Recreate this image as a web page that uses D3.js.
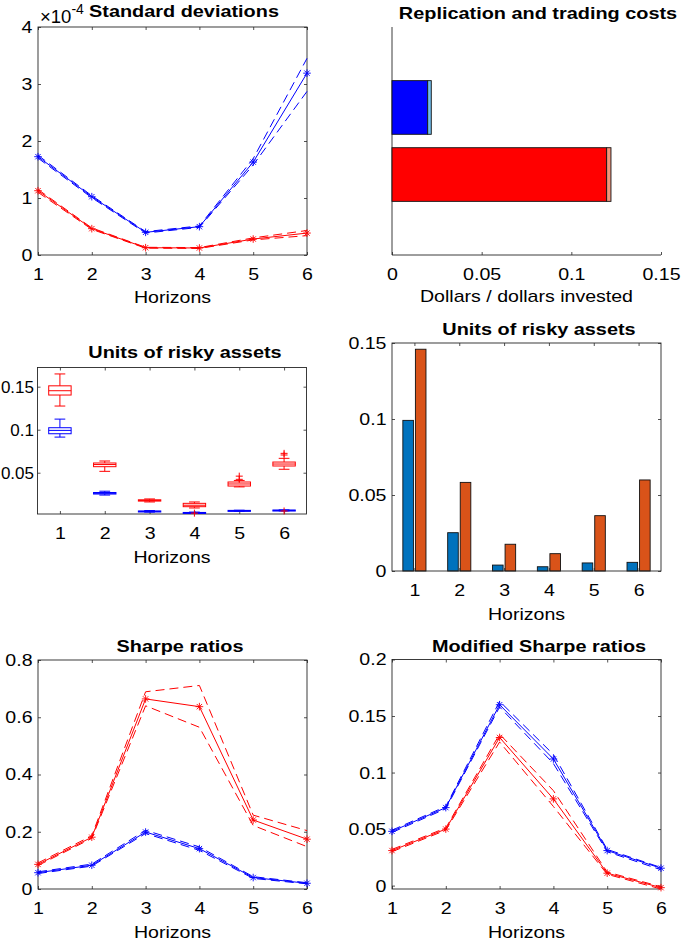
<!DOCTYPE html>
<html>
<head>
<meta charset="utf-8">
<script src="https://cdn.jsdelivr.net/npm/d3@7"></script>
<style>
  body { margin: 0; background: #fff; }
  svg text { font-family: "Liberation Sans", Arial, sans-serif; fill: #000; }
</style>
</head>
<body>
<div id="main"></div>
<script>
const WIDTH = 685;
const HEIGHT = 948;
const AXIS_COLOR = '#262626';
const STRETCH = 1.15;
const FONT = 17;
const BLUE = '#0000ff';
const RED = '#ff0000';

/**
 * Data
 */
const horizons = [1, 2, 3, 4, 5, 6];

// standard deviations, in units of 1e-4
const stdBlue = [1.725, 1.023, 0.398, 0.497, 1.63, 3.19];
const stdBlueHi = [1.75, 1.04, 0.41, 0.51, 1.69, 3.45];
const stdBlueLo = [1.70, 1.005, 0.385, 0.485, 1.58, 2.87];
const stdRed = [1.128, 0.462, 0.128, 0.123, 0.28, 0.385];
const stdRedHi = [1.15, 0.475, 0.135, 0.13, 0.30, 0.43];
const stdRedLo = [1.10, 0.45, 0.12, 0.115, 0.265, 0.34];

// replication and trading costs (stacked horizontal bars)
const costRows = [1, 2];
const replicationCost = [0.0199, 0.1197];
const tradingCost = [0.002, 0.0024];
const costColors = [BLUE, RED];
const tradingColors = ['#72bdec', '#f2957b'];

// boxplot of units of risky assets: [whiskerLo, q1, median, q3, whiskerHi]
const boxRed = [
  [0.1275, 0.1403, 0.1453, 0.151, 0.1648],
  [0.0516, 0.057, 0.0595, 0.0613, 0.0636],
  [0.016, 0.017, 0.0178, 0.0185, 0.0195],
  [0.009, 0.0105, 0.0122, 0.0144, 0.016],
  [0.0335, 0.0345, 0.0369, 0.0392, 0.041],
  [0.054, 0.0578, 0.0601, 0.0624, 0.0667]
];
const boxBlue = [
  [0.0914, 0.0953, 0.0992, 0.1023, 0.1123],
  [0.024, 0.0252, 0.026, 0.027, 0.0285],
  [0.0042, 0.0048, 0.0051, 0.0055, 0.006],
  [0.0027, 0.003, 0.0034, 0.0038, 0.0042],
  [0.0052, 0.0055, 0.0058, 0.0062, 0.0064],
  [0.0056, 0.0058, 0.0062, 0.0066, 0.0068]
];
const outliersRed = [[], [], [], [0.003], [0.0423, 0.046], [0.0706, 0.0725, 0.0055]];

// units of risky assets (grouped bars)
const unitsBlue = [0.0991, 0.0252, 0.0039, 0.0028, 0.0053, 0.0057];
const unitsOrange = [0.1459, 0.0583, 0.0176, 0.0114, 0.0364, 0.0599];

// Sharpe ratios
const sharpeRed = [0.086, 0.181, 0.664, 0.637, 0.241, 0.174];
const sharpeRedHi = [0.091, 0.186, 0.689, 0.711, 0.258, 0.204];
const sharpeRedLo = [0.082, 0.177, 0.640, 0.565, 0.222, 0.148];
const sharpeBlue = [0.057, 0.083, 0.199, 0.141, 0.040, 0.020];
const sharpeBlueHi = [0.060, 0.087, 0.205, 0.147, 0.043, 0.022];
const sharpeBlueLo = [0.054, 0.080, 0.194, 0.135, 0.037, 0.018];

// modified Sharpe ratios
const modBlue = [0.048, 0.069, 0.160, 0.112, 0.031, 0.0154];
const modBlueHi = [0.049, 0.070, 0.163, 0.116, 0.032, 0.016];
const modBlueLo = [0.047, 0.068, 0.158, 0.108, 0.030, 0.014];
const modRed = [0.031, 0.050, 0.131, 0.0767, 0.011, -0.0018];
const modRedHi = [0.032, 0.051, 0.134, 0.084, 0.012, -0.001];
const modRedLo = [0.030, 0.049, 0.127, 0.070, 0.010, -0.003];

// tick values
const horizonTicks = [1, 2, 3, 4, 5, 6];
const stdTicks = [0, 1, 2, 3, 4];
const costTicks = [0, 0.05, 0.1, 0.15];
const boxTicks = [0.05, 0.1, 0.15];
const unitsTicks = [0, 0.05, 0.1, 0.15];
const sharpeTicks = [0, 0.2, 0.4, 0.6, 0.8];
const modTicks = [0, 0.05, 0.1, 0.15, 0.2];

const fmt = d => String(+d.toFixed(6));

/**
 * Helpers
 */
const svg = d3.select('#main').append('svg')
  .attr('width', WIDTH).attr('height', HEIGHT)
  .attr('viewBox', [0, 0, WIDTH, HEIGHT]);

function axes(x, y, o) {
  const g = svg.append('g');
  const [l, r] = x.range();
  const [b, t] = y.range();
  const styl = sel => {
    sel.select('.domain').remove();
    sel.selectAll('.tick line').attr('stroke', AXIS_COLOR).attr('stroke-width', 0.8);
    sel.selectAll('.tick text').attr('font-size', FONT).attr('font-family', null).attr('fill', '#000');
  };
  g.append('g').attr('transform', `translate(0,${b})`)
    .call(d3.axisBottom(x).tickValues(o.xTicks).tickSize(-3).tickPadding(13).tickFormat(fmt)).call(styl);
  if (o.yTicks) {
    const yg = g.append('g').attr('transform', `translate(${l},0)`)
      .call(d3.axisLeft(y).tickValues(o.yTicks).tickSize(-3).tickPadding(o.yPad || 5.5).tickFormat(fmt)).call(styl);
    // labels squeezed against the window edge are left at natural width
    if (o.narrowY) yg.selectAll('.tick text').classed('keep', true);
  }
  if (o.box) {
    g.append('g').attr('transform', `translate(0,${t})`)
      .call(d3.axisTop(x).tickValues(o.xTicks).tickSize(-3).tickFormat('')).call(styl);
    g.append('g').attr('transform', `translate(${r},0)`)
      .call(d3.axisRight(y).tickValues(o.yTicks).tickSize(-3).tickFormat('')).call(styl);
    g.append('rect').attr('x', l).attr('y', t).attr('width', r - l).attr('height', b - t)
      .attr('fill', 'none').attr('stroke', AXIS_COLOR).attr('stroke-width', 0.9);
  } else {
    g.append('path').attr('d', `M${l},${t}V${b}H${r}`)
      .attr('fill', 'none').attr('stroke', AXIS_COLOR).attr('stroke-width', 0.9);
  }
  if (o.title) {
    svg.append('text').attr('class', 'stretch').attr('x', o.title[1]).attr('y', o.title[2])
      .attr('text-anchor', 'middle').attr('font-weight', 'bold').attr('font-size', 17.3).text(o.title[0]);
  }
  if (o.xlabel) {
    svg.append('text').attr('class', 'stretch').attr('x', (l + r) / 2).attr('y', o.xlabel[1])
      .attr('text-anchor', 'middle').attr('font-size', FONT).text(o.xlabel[0]);
  }
  return g;
}

function asterisk(g, px, py, color, r = 3.8) {
  const d = r * Math.SQRT1_2;
  g.append('path')
    .attr('d', `M${px - r},${py}H${px + r}M${px},${py - r}V${py + r}M${px - d},${py - d}L${px + d},${py + d}M${px - d},${py + d}L${px + d},${py - d}`)
    .attr('stroke', color).attr('stroke-width', 0.9).attr('fill', 'none');
}

function plus(g, px, py, color, r = 3.5) {
  g.append('path').attr('d', `M${px - r},${py}H${px + r}M${px},${py - r}V${py + r}`)
    .attr('stroke', color).attr('stroke-width', 1).attr('fill', 'none');
}

// solid centre line with markers, dashed upper / lower bands without markers
function band(x, y, mid, hi, lo, color) {
  const g = svg.append('g');
  const line = d3.line().x((d, i) => x(horizons[i])).y(d => y(d));
  [hi, lo].forEach(s => g.append('path').attr('d', line(s)).attr('fill', 'none')
    .attr('stroke', color).attr('stroke-width', 1).attr('stroke-dasharray', '9,5'));
  g.append('path').attr('d', line(mid)).attr('fill', 'none').attr('stroke', color).attr('stroke-width', 1);
  mid.forEach((v, i) => asterisk(g, x(horizons[i]), y(v), color));
}

/**
 * Panel 1: standard deviations
 */
function renderStd() {
  const x = d3.scaleLinear().domain([1, 6]).range([38, 307]);
  const y = d3.scaleLinear().domain([0, 4]).range([255, 27]);
  axes(x, y, { xTicks: horizonTicks, yTicks: stdTicks, box: true,
    title: ['Standard deviations', 184, 17], xlabel: ['Horizons', 303] });
  band(x, y, stdBlue, stdBlueHi, stdBlueLo, BLUE);
  band(x, y, stdRed, stdRedHi, stdRedLo, RED);
  const t = svg.append('text').attr('x', 40).attr('y', 23).attr('font-size', 18.5);
  t.append('tspan').text('\u00d710');
  t.append('tspan').attr('dy', -9).attr('font-size', 14).text('-4');
}

/**
 * Panel 2: replication and trading costs
 */
function renderCosts() {
  const x = d3.scaleLinear().domain([0, 0.15]).range([392, 661]);
  const y = d3.scaleLinear().domain([-0.2, 3.2]).range([27, 255]);
  const yAx = d3.scaleLinear().domain([0, 1]).range([255, 27]);
  axes(x, yAx, { xTicks: costTicks, box: false,
    title: ['Replication and trading costs', 538, 19], xlabel: ['Dollars / dollars invested', 302] });
  const h = y(0.8) - y(0);
  const g = svg.append('g').attr('stroke', '#111').attr('stroke-width', 0.9);
  costRows.forEach((c, i) => {
    g.append('rect').attr('x', x(0)).attr('y', y(c) - h / 2)
      .attr('width', x(replicationCost[i]) - x(0)).attr('height', h).attr('fill', costColors[i]);
    g.append('rect').attr('x', x(replicationCost[i])).attr('y', y(c) - h / 2)
      .attr('width', x(replicationCost[i] + tradingCost[i]) - x(replicationCost[i])).attr('height', h)
      .attr('fill', tradingColors[i]);
  });
}

/**
 * Panel 3: boxplots
 */
function renderBoxes() {
  const x = d3.scaleLinear().domain([0.5, 6.5]).range([37.5, 306.5]);
  const y = d3.scaleLinear().domain([0.002, 0.1723]).range([514, 367.5]);
  axes(x, y, { xTicks: horizonTicks, yTicks: boxTicks, box: true, yPad: 3.5, narrowY: true,
    title: ['Units of risky assets', 185, 358], xlabel: ['Horizons', 563] });
  const g = svg.append('g').attr('fill', 'none').attr('stroke-width', 1);
  const drawBox = (stats, color) => stats.forEach((s, i) => {
    const h = horizons[i];
    const [lo, q1, med, q3, hi] = s;
    const bx = x(h - 0.25), bw = x(h + 0.25) - x(h - 0.25);
    g.append('line').attr('x1', x(h)).attr('x2', x(h)).attr('y1', y(q3)).attr('y2', y(hi)).attr('stroke', color);
    g.append('line').attr('x1', x(h)).attr('x2', x(h)).attr('y1', y(q1)).attr('y2', y(lo)).attr('stroke', color);
    [lo, hi].forEach(v => g.append('line').attr('x1', x(h - 0.12)).attr('x2', x(h + 0.12))
      .attr('y1', y(v)).attr('y2', y(v)).attr('stroke', color));
    g.append('rect').attr('x', bx).attr('y', y(q3)).attr('width', bw)
      .attr('height', Math.max(y(q1) - y(q3), 1)).attr('stroke', color);
    g.append('line').attr('x1', bx).attr('x2', bx + bw).attr('y1', y(med)).attr('y2', y(med)).attr('stroke', color);
  });
  drawBox(boxRed, RED);
  drawBox(boxBlue, BLUE);
  outliersRed.forEach((list, i) => list.forEach(v => plus(g, x(horizons[i]), y(v), RED)));
}

/**
 * Panel 4: grouped bars
 */
function renderUnits() {
  const x = d3.scaleLinear().domain([0.5, 6.5]).range([392, 661]);
  const y = d3.scaleLinear().domain([0, 0.15]).range([571, 343]);
  const bw = 0.236, off = 0.14;
  const g = svg.append('g').attr('stroke', '#111').attr('stroke-width', 0.9);
  [[unitsBlue, '#0072bd', -off], [unitsOrange, '#d95319', off]].forEach(([vals, color, o]) => {
    g.selectAll(null).data(vals).join('rect')
      .attr('x', (d, i) => x(horizons[i] + o - bw / 2))
      .attr('y', d => y(d))
      .attr('width', x(bw) - x(0))
      .attr('height', d => y(0) - y(d))
      .attr('fill', color);
  });
  axes(x, y, { xTicks: horizonTicks, yTicks: unitsTicks, box: true,
    title: ['Units of risky assets', 539, 335], xlabel: ['Horizons', 620] });
}

/**
 * Panel 5 and 6: Sharpe ratios
 */
function renderSharpe() {
  const x = d3.scaleLinear().domain([1, 6]).range([38, 307]);
  const y = d3.scaleLinear().domain([0, 0.8]).range([889, 660]);
  axes(x, y, { xTicks: horizonTicks, yTicks: sharpeTicks, box: true,
    title: ['Sharpe ratios', 180, 652], xlabel: ['Horizons', 938] });
  band(x, y, sharpeRed, sharpeRedHi, sharpeRedLo, RED);
  band(x, y, sharpeBlue, sharpeBlueHi, sharpeBlueLo, BLUE);
}

function renderModSharpe() {
  const x = d3.scaleLinear().domain([1, 6]).range([392, 661]);
  const y = d3.scaleLinear().domain([-0.003, 0.2]).range([889, 659.5]);
  axes(x, y, { xTicks: horizonTicks, yTicks: modTicks, box: true,
    title: ['Modified Sharpe ratios', 539, 652], xlabel: ['Horizons', 938] });
  band(x, y, modBlue, modBlueHi, modBlueLo, BLUE);
  band(x, y, modRed, modRedHi, modRedLo, RED);
}

renderStd();
renderCosts();
renderBoxes();
renderUnits();
renderSharpe();
renderModSharpe();

// widen the glyphs a little, the reference font runs wide
svg.selectAll('.tick text:not(.keep), text.stretch').each(function () {
  const w = this.getComputedTextLength();
  if (w > 0) {
    this.setAttribute('textLength', (w * STRETCH).toFixed(1));
    this.setAttribute('lengthAdjust', 'spacingAndGlyphs');
  }
});
</script>
</body>
</html>
